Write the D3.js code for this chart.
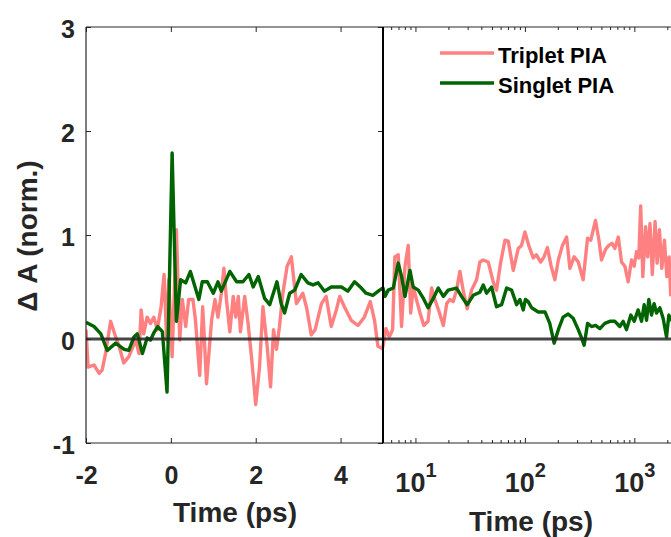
<!DOCTYPE html>
<html>
<head>
<meta charset="utf-8">
<script src="https://cdn.jsdelivr.net/npm/d3@7"></script>
<style>
  body { margin: 0; background: #fff; }
  svg text { font-family: "Liberation Sans", Arial, sans-serif; font-weight: bold; fill: #262626; }
</style>
</head>
<body>
<script>
// time in ps, both panels (linear up to 5 ps, log after)
const tripletT = [-2.0, -1.95, -1.81, -1.69, -1.62, -1.54, -1.42, -1.3, -1.22, -1.11, -0.99, -0.83, -0.75, -0.7, -0.64,
  -0.56, -0.48, -0.4, -0.32, -0.23, -0.16, -0.1, -0.05, 0.03, 0.13, 0.21, 0.27, 0.35, 0.42, 0.52, 0.58, 0.68, 0.75,
  0.79, 0.84, 0.96, 1.04, 1.11, 1.19, 1.25, 1.31, 1.39, 1.47, 1.53, 1.59, 1.64, 1.74, 1.82, 1.9, 2.0, 2.09, 2.17,
  2.27, 2.35, 2.42, 2.49, 2.56, 2.64, 2.74, 2.84, 2.96, 3.11, 3.2, 3.31, 3.4, 3.55, 3.66, 3.78, 3.9, 3.98, 4.09,
  4.25, 4.41, 4.56, 4.7, 4.8, 4.88, 4.97, 5.0, 5.32, 5.7, 6.12, 6.42, 6.89, 7.39, 7.94, 8.5, 8.95, 9.45, 10.1, 10.9,
  11.8, 12.9, 13.9, 14.9, 16.3, 17.8, 19.1, 20.4, 21.9, 23.5, 25.2, 27.0, 29.4, 32.2, 35.8, 38.4, 41.2, 45.8, 50.8,
  54.5, 59.3, 65.1, 69.8, 77.5, 86, 92.2, 99, 108, 118, 126, 138, 148, 159, 171, 186, 200, 218, 238, 255, 279, 304,
  337, 370, 396, 437, 470, 496, 539, 578, 619, 657, 706, 756, 811, 869, 933, 986, 1036, 1087, 1131, 1183, 1253,
  1309, 1375, 1444, 1531, 1598, 1678, 1764, 1864, 1960, 2057, 2130];
const tripletV = [0.09, -0.27, -0.25, -0.33, -0.3, -0.14, 0.17, 0.02, -0.07, -0.23, -0.17, -0.01, -0.14, 0.28, 0.05,
  0.21, 0.15, 0.21, 0.09, 0.31, 0.62, -0.01, 0.57, -0.17, 1.05, -0.01, 0.38, 0.12, 0.38, 0.38, 0.18, -0.35, 0.31,
  0.0, -0.43, 0.18, 0.38, 0.21, 0.44, 0.68, 0.38, 0.07, 0.41, 0.21, 0.41, 0.07, 0.41, 0.15, -0.17, -0.63, -0.27, 0.31,
  -0.07, -0.46, 0.09, -0.1, 0.12, 0.44, 0.7, 0.79, 0.34, 0.44, 0.3, 0.04, 0.09, 0.34, 0.41, 0.12, 0.28, 0.41, 0.31,
  0.18, 0.13, 0.21, 0.36, 0.18, -0.07, -0.09, -0.07, 0.1, 0.02, 0.09, 0.79, 0.81, 0.12, 0.7, 0.9, 0.25, 0.5, 0.38, 0.25,
  0.13, 0.17, 0.49, 0.38, 0.26, 0.13, 0.34, 0.38, 0.36, 0.47, 0.65, 0.47, 0.29, 0.47, 0.57, 0.74, 0.76, 0.74, 0.55,
  0.47, 0.73, 0.95, 0.94, 0.66, 0.87, 0.9, 1.03, 0.89, 0.78, 0.81, 0.74, 0.79, 0.88, 0.71, 0.57, 0.76, 0.9, 0.98, 0.68, 0.79, 0.74,
  0.57, 0.97, 0.95, 1.14, 0.95, 0.76, 0.86, 0.9, 0.92, 0.87, 0.98, 0.74, 0.7, 0.55, 0.76, 0.7, 0.84, 0.78, 1.28, 0.6, 1.08,
  0.79, 1.11, 0.62, 1.13, 0.73, 1.05, 0.68, 0.95, 0.6, 0.79, 0.41];

const singletT = [-2.0, -1.81, -1.65, -1.5, -1.3, -1.1, -0.99, -0.87, -0.79, -0.67, -0.56, -0.48, -0.4, -0.31, -0.2,
  -0.09, 0.03, 0.13, 0.23, 0.35, 0.46, 0.54, 0.66, 0.74, 0.86, 1.0, 1.11, 1.19, 1.39, 1.55, 1.7, 1.84, 1.94, 2.06,
  2.21, 2.33, 2.5, 2.6, 2.68, 2.8, 2.92, 3.07, 3.23, 3.35, 3.47, 3.62, 3.78, 4.02, 4.17, 4.33, 4.49, 4.6, 4.76, 4.92,
  5.0, 5.21, 5.58, 6.21, 6.89, 7.4, 7.94, 8.82, 9.44, 10.5, 11.7, 12.9, 14.4, 16.0, 17.8, 19.7, 23.5, 26.1, 29.4,
  33.4, 38.4, 41.2, 44.2, 49.1, 54.5, 60.6, 67.4, 74.8, 83.2, 89.1, 95.6, 100, 106, 114, 131, 151, 167, 183, 200,
  221, 246, 273, 304, 326, 344, 370, 402, 437, 479, 532, 591, 657, 729, 782, 839, 919, 986, 1072, 1151, 1217, 1279,
  1343, 1420, 1500, 1578, 1692, 1813, 1948, 2045, 2140];
const singletV = [0.16, 0.12, 0.05, -0.11, -0.04, -0.1, -0.11, 0.02, 0.05, -0.14, 0.01, -0.01, 0.06, 0.12, 0.07,
  -0.51, 1.79, 0.17, 0.57, 0.54, 0.65, 0.54, 0.38, 0.55, 0.55, 0.44, 0.55, 0.46, 0.65, 0.55, 0.55, 0.62, 0.5, 0.6,
  0.39, 0.33, 0.55, 0.34, 0.25, 0.44, 0.47, 0.62, 0.54, 0.52, 0.54, 0.46, 0.5, 0.5, 0.46, 0.55, 0.49, 0.44, 0.42, 0.47,
  0.49, 0.41, 0.47, 0.49, 0.73, 0.6, 0.41, 0.66, 0.5, 0.47, 0.39, 0.3, 0.39, 0.49, 0.41, 0.47, 0.49, 0.41, 0.33,
  0.42, 0.45, 0.52, 0.44, 0.5, 0.31, 0.33, 0.49, 0.47, 0.33, 0.38, 0.28, 0.38, 0.36, 0.3, 0.26, 0.26, 0.15, -0.04, 0.09,
  0.21, 0.24, 0.2, 0.09, 0.01, -0.06, 0.15, 0.12, 0.13, 0.1, 0.15, 0.17, 0.17, 0.12, 0.17, 0.09, 0.23, 0.17, 0.28, 0.17,
  0.33, 0.18, 0.38, 0.23, 0.34, 0.25, 0.3, 0.2, 0.02, 0.23, 0.17];

const yTicks = [-1, 0, 1, 2, 3];
const linTicks = [-2, 0, 2, 4];
const logTicks = [10, 100, 1000];
const seriesNames = ['Triplet PIA', 'Singlet PIA'];
const seriesColors = ['#ff8080', '#006400'];

const width = 671, height = 537;
const pL = 86, pT = 27, pB = 443, pS = 383, pR = 671;

const svg = d3.select('body').append('svg')
  .attr('width', width).attr('height', height);

const xLin = d3.scaleLinear().domain([-2, 5]).range([pL, pS]);
const xLog = d3.scaleLog().domain([5, 2140]).range([pS, pR]);
const y = d3.scaleLinear().domain([-1, 3]).range([pB, pT]);
const xt = t => t <= 5 ? xLin(t) : xLog(t);
const plain = d => String(d);

svg.append('clipPath').attr('id', 'plot')
  .append('rect').attr('x', pL).attr('y', pT).attr('width', pR - pL).attr('height', pB - pT);

const line = d3.line().x(d => xt(d[0])).y(d => y(d[1]));
const series = [d3.zip(tripletT, tripletV), d3.zip(singletT, singletV)];

svg.append('g').attr('clip-path', 'url(#plot)')
  .selectAll('path').data(series).join('path')
  .attr('d', line)
  .attr('fill', 'none')
  .attr('stroke', (d, i) => seriesColors[i])
  .attr('stroke-width', 3.4)
  .attr('stroke-linejoin', 'round');

// zero line
svg.append('line')
  .attr('x1', pL).attr('x2', pR).attr('y1', y(0)).attr('y2', y(0))
  .attr('stroke', '#262626').attr('stroke-opacity', 0.85).attr('stroke-width', 3);

function styleAxis(g) {
  g.select('.domain').remove();
  g.selectAll('line').attr('stroke', '#262626');
  g.selectAll('text').attr('font-size', 25).attr('fill', '#262626');
}

// left y axis
svg.append('g').attr('transform', `translate(${pL},0)`)
  .call(d3.axisLeft(y).tickValues(yTicks).tickFormat(plain).tickSizeInner(-5).tickSizeOuter(0).tickPadding(11))
  .call(styleAxis)
  .call(g => g.selectAll('text').attr('dy', '0.4em'));
// ticks on the split line
svg.append('g').attr('transform', `translate(${pS},0)`)
  .call(d3.axisRight(y).tickValues(yTicks).tickSizeInner(-5).tickSizeOuter(0).tickFormat(''))
  .call(styleAxis);

// linear panel x axes
svg.append('g').attr('transform', `translate(0,${pB})`)
  .call(d3.axisBottom(xLin).tickValues(linTicks).tickFormat(plain).tickSizeInner(-5).tickSizeOuter(0).tickPadding(23))
  .call(styleAxis);
svg.append('g').attr('transform', `translate(0,${pT})`)
  .call(d3.axisTop(xLin).tickValues(linTicks).tickSizeInner(-5).tickSizeOuter(0).tickFormat(''))
  .call(styleAxis);

// log panel x axes
const minor = xLog.ticks().filter(v => !logTicks.includes(v) && v > 5);
[[pB, -1], [pT, 1]].forEach(([yy, dir]) => {
  const g = svg.append('g');
  g.selectAll('.maj').data(logTicks).join('line')
    .attr('x1', xLog).attr('x2', xLog).attr('y1', yy).attr('y2', yy + dir * 5)
    .attr('stroke', '#262626');
  g.selectAll('.min').data(minor).join('line')
    .attr('x1', xLog).attr('x2', xLog).attr('y1', yy).attr('y2', yy + dir * 3)
    .attr('stroke', '#262626');
});
const logLab = svg.append('g').selectAll('text').data(logTicks).join('text')
  .attr('x', d => xLog(d)).attr('y', 492).attr('text-anchor', 'middle');
logLab.append('tspan').attr('font-size', 27).text('10');
logLab.append('tspan').attr('font-size', 20).attr('dy', -15).text(d => Math.round(Math.log10(d)));

// frame
svg.append('line').attr('x1', pL).attr('x2', pR).attr('y1', pT).attr('y2', pT)
  .attr('stroke', '#262626').attr('stroke-width', 1);
svg.append('line').attr('x1', pL).attr('x2', pR).attr('y1', pB).attr('y2', pB)
  .attr('stroke', '#262626').attr('stroke-width', 1);
svg.append('line').attr('x1', pL).attr('x2', pL).attr('y1', pT).attr('y2', pB)
  .attr('stroke', '#262626').attr('stroke-width', 1.2);
svg.append('line').attr('x1', pS).attr('x2', pS).attr('y1', pT).attr('y2', pB)
  .attr('stroke', '#000').attr('stroke-width', 2);

// axis titles
svg.append('text').attr('x', 235).attr('y', 522).attr('text-anchor', 'middle')
  .attr('font-size', 28).text('Time (ps)');
svg.append('text').attr('x', 531).attr('y', 531).attr('text-anchor', 'middle')
  .attr('font-size', 28).text('Time (ps)');
svg.append('text').attr('transform', 'translate(37,236) rotate(-90)').attr('text-anchor', 'middle')
  .attr('font-size', 28).text('\u0394 A (norm.)');

// legend
const legend = svg.append('g').selectAll('g').data(seriesNames).join('g')
  .attr('transform', (d, i) => `translate(440,${53 + i * 30})`);
legend.append('line').attr('x1', 0).attr('x2', 54).attr('y1', 0).attr('y2', 0)
  .attr('stroke', (d, i) => seriesColors[i]).attr('stroke-width', 3.4);
legend.append('text').attr('x', 58).attr('y', 10).attr('font-size', 22)
  .style('fill', '#000').text(d => d);
</script>
</body>
</html>
